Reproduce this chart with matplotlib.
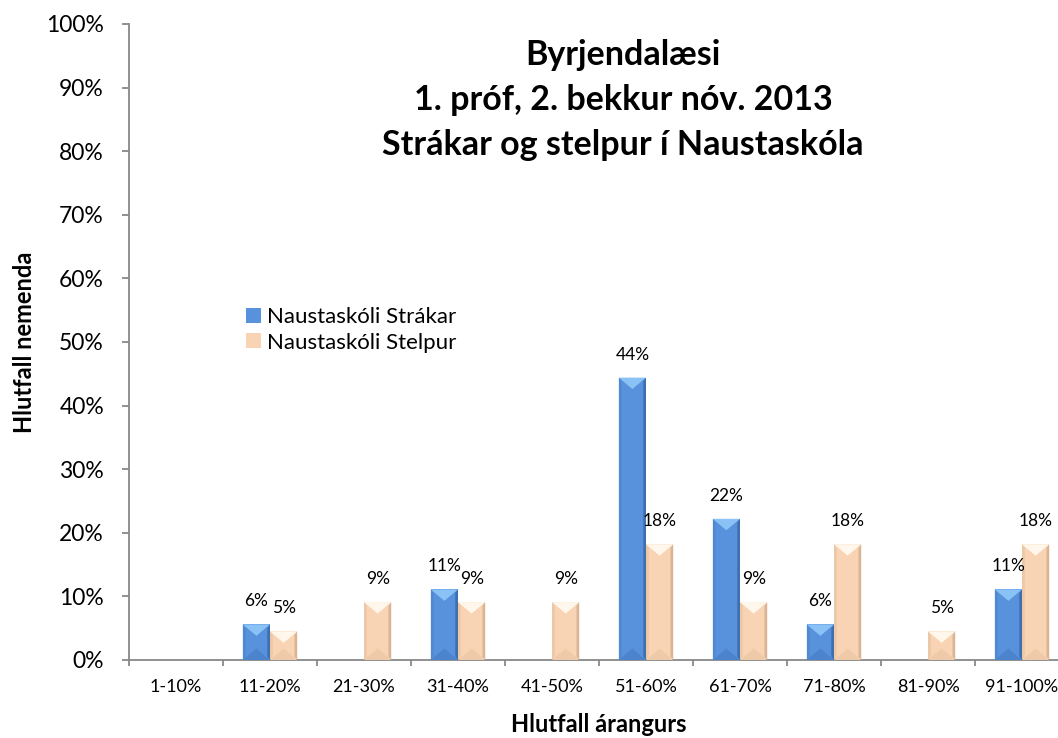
import numpy as np
import matplotlib.pyplot as plt
from matplotlib.patches import Polygon

# data
categories = ["1-10%", "11-20%", "21-30%", "31-40%", "41-50%",
              "51-60%", "61-70%", "71-80%", "81-90%", "91-100%"]
strakar = [0, 5.6, 0, 11.1, 0, 44.4, 22.2, 5.6, 0, 11.1]
stelpur = [0, 4.5, 9.1, 9.1, 9.1, 18.2, 9.1, 18.2, 4.5, 18.2]
strakar_labels = ["", "6%", "", "11%", "", "44%", "22%", "6%", "", "11%"]
stelpur_labels = ["", "5%", "9%", "9%", "9%", "18%", "9%", "18%", "5%", "18%"]

plt.rcParams['font.family'] = ['Lato', 'DejaVu Sans']

fig = plt.figure(figsize=(10.58, 7.38), dpi=100)
ax = fig.add_axes([129 / 1058, 1 - 660 / 738, 940 / 1058, 636 / 738])

x = np.arange(len(categories))
w = 0.29
blue = "#5892dc"
peach = "#f8d4b4"
b1 = ax.bar(x - w / 2, strakar, w, color=blue, edgecolor="none", zorder=2)
b2 = ax.bar(x + w / 2, stelpur, w, color=peach, edgecolor="none", zorder=2)


def bevel(bars, top, left, right, bottom):
    # simple pyramid-like bevel drawn on each bar
    for r in bars:
        x0, y0 = r.get_x(), r.get_y()
        bw, bh = r.get_width(), r.get_height()
        if bh <= 0:
            continue
        d = min(1.8, bh / 2)  # bevel depth in data units (%)
        e = bw * 0.1
        ax.add_patch(Polygon([(x0, y0 + bh), (x0 + bw, y0 + bh), (x0 + bw / 2, y0 + bh - d)],
                             closed=True, color=top, lw=0, zorder=3))
        ax.add_patch(Polygon([(x0, y0), (x0 + bw, y0), (x0 + bw / 2, y0 + d)],
                             closed=True, color=bottom, lw=0, zorder=3))
        ax.add_patch(Polygon([(x0, y0), (x0 + e, y0 + d * 0.3), (x0 + e, y0 + bh - d * 0.3), (x0, y0 + bh)],
                             closed=True, color=left, lw=0, zorder=3, alpha=0.5))
        ax.add_patch(Polygon([(x0 + bw, y0), (x0 + bw - e, y0 + d * 0.3), (x0 + bw - e, y0 + bh - d * 0.3), (x0 + bw, y0 + bh)],
                             closed=True, color=right, lw=0, zorder=3, alpha=0.7))


bevel(b1, "#8ac2f5", "#4a80c8", "#33629f", "#4b84cd")
bevel(b2, "#fff7ec", "#e3bd9c", "#cfa886", "#efcaa9")

for bars, labels in [(b1, strakar_labels), (b2, stelpur_labels)]:
    for r, lab in zip(bars, labels):
        if lab:
            ax.annotate(lab, (r.get_x() + r.get_width() / 2, r.get_height()),
                        xytext=(0, 16.5), textcoords="offset points", ha="center", va="center", fontsize=12.5)

ax.set_xlim(-0.5, len(categories) - 0.5)
ax.set_ylim(0, 100)
ax.set_yticks(np.arange(0, 101, 10))
ax.set_yticklabels([f"{v}%" for v in range(0, 101, 10)], fontsize=16.5)
ax.set_xticks(x)
ax.set_xticklabels(categories, fontsize=13)
ax.set_xticks(np.arange(-0.5, len(categories), 1), minor=True)
ax.tick_params(axis="x", which="major", length=0, pad=14)
ax.tick_params(axis="x", which="minor", length=4, color="#888888", width=1.3)
ax.tick_params(axis="y", length=5, color="#888888", width=1.3, pad=13)

for s in ["top", "right"]:
    ax.spines[s].set_visible(False)
for s in ["left", "bottom"]:
    ax.spines[s].set_color("#888888")
    ax.spines[s].set_linewidth(1.3)

ax.set_xlabel("Hlutfall árangurs", fontsize=17, fontweight="bold", labelpad=13)
ax.set_ylabel("Hlutfall nemenda", fontsize=17, fontweight="bold", labelpad=7)

fig.text(623 / 1058, 1 - 100 / 738,
         "Byrjendalæsi\n1. próf, 2. bekkur nóv. 2013\nStrákar og stelpur í Naustaskóla",
         ha="center", va="center", fontsize=24.5, fontweight="bold", linespacing=1.5)

ax.legend([b1, b2], ["Naustaskóli Strákar", "Naustaskóli Stelpur"],
          loc="upper left", bbox_to_anchor=(235 / 1058, 1 - 296 / 738), bbox_transform=fig.transFigure,
          frameon=False, fontsize=16, handlelength=0.65, handleheight=0.65, handletextpad=0.3,
          labelspacing=0.25, borderpad=0)

fig.savefig("out.png", dpi=100)
